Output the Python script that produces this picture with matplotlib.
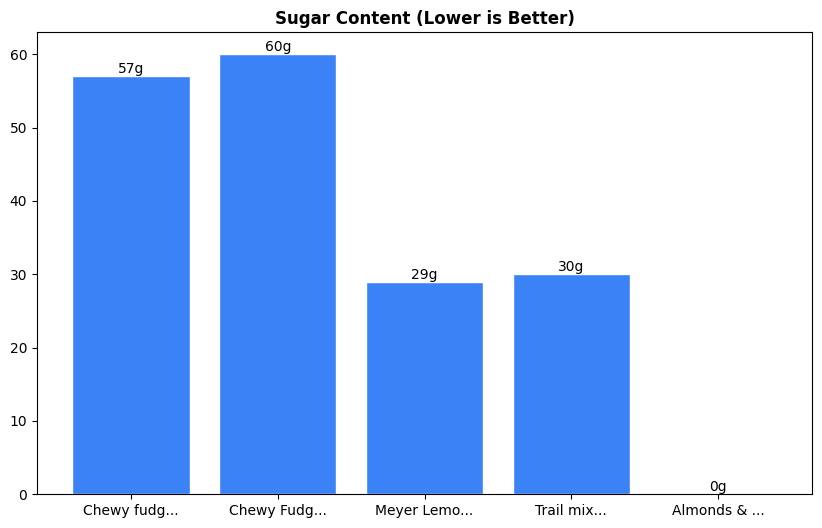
import matplotlib.pyplot as plt

# 糖分データ
products = ['Chewy fudg...', 'Chewy Fudg...', 'Meyer Lemo...', 'Trail mix...', 'Almonds & ...']
sugar = [57, 60, 29, 30, 0]

fig, ax = plt.subplots(figsize=(8.22, 5.28), dpi=100)
bars = ax.bar(products, sugar, color='#3b82f6', edgecolor='white', linewidth=1)
ax.bar_label(bars, labels=[f'{v}g' for v in sugar])
ax.set_title('Sugar Content (Lower is Better)', fontweight='bold')

fig.subplots_adjust(left=0.045, right=0.988, top=0.939, bottom=0.064)
fig.savefig('out.png')
